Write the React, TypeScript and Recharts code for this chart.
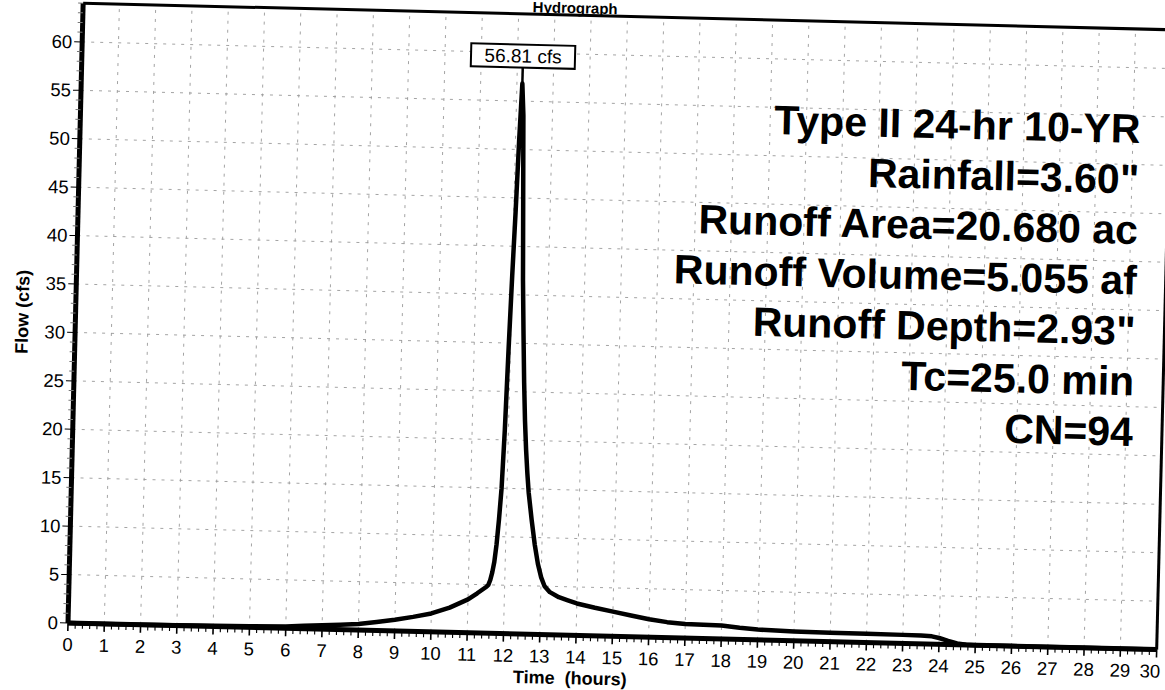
import React from 'react';
import { LineChart, Line, XAxis, YAxis, ReferenceLine, ReferenceDot } from 'recharts';

// hydrograph ordinates (hours, cfs)
const TIME_HRS = [
  0, 1, 2, 3, 4, 5, 6, 6.5, 7, 7.5,
  8, 8.5, 9, 9.5, 10, 10.5, 11, 11.25, 11.5, 11.55,
  11.6, 11.65, 11.7, 11.75, 11.8, 11.85, 11.9, 11.95, 12.0, 12.05,
  12.1, 12.15, 12.2, 12.25, 12.3, 12.35, 12.4, 12.45, 12.5, 12.55,
  12.6, 12.7, 12.8, 12.9, 13.0, 13.1, 13.25, 13.5, 13.75, 14,
  14.5, 15, 15.5, 16, 16.5, 17, 17.5, 18, 18.5, 19,
  19.5, 20, 21, 22, 23, 23.5, 23.8, 24, 24.25, 24.5,
  24.75, 25, 26, 27, 28, 29, 30,
];
const FLOW_CFS = [
  0, 0, 0.01, 0.05, 0.09, 0.13, 0.2, 0.3, 0.4, 0.5,
  0.62, 0.88, 1.15, 1.5, 1.9, 2.55, 3.45, 4.1, 4.8, 5.0,
  5.5, 6.3, 7.4, 9.2, 11.8, 15.0, 21.0, 29.5, 37.0, 43.5,
  51.0, 56.81, 53.5, 45.0, 36.5, 31.0, 26.0, 22.0, 19.0, 16.6,
  14.6, 11.8, 9.3, 7.3, 5.9, 5.0, 4.4, 3.9, 3.6, 3.3,
  2.9, 2.55, 2.2, 1.85, 1.6, 1.45, 1.42, 1.38, 1.2, 1.07,
  1.0, 0.96, 0.92, 0.9, 0.88, 0.86, 0.8, 0.65, 0.38, 0.14,
  0.03, 0, 0, 0, 0, 0, 0,
];

const HOUR_TICKS = [0, 1, 2, 3, 4, 5, 6, 7, 8, 9, 10, 11, 12, 13, 14, 15, 16, 17, 18, 19, 20, 21, 22, 23, 24, 25, 26, 27, 28, 29, 30];
const FLOW_TICKS = [0, 5, 10, 15, 20, 25, 30, 35, 40, 45, 50, 55, 60];
const FLOW_MAX = 64;

const NOTES = [
  'Type II 24-hr 10-YR',
  'Rainfall=3.60"',
  'Runoff Area=20.680 ac',
  'Runoff Volume=5.055 af',
  'Runoff Depth=2.93"',
  'Tc=25.0 min',
  'CN=94',
];

const data = TIME_HRS.map((t, i) => ({ t, q: FLOW_CFS[i] }));
const peakIdx = FLOW_CFS.indexOf(Math.max(...FLOW_CFS));
const PEAK_T = TIME_HRS[peakIdx];
const PEAK_Q = FLOW_CFS[peakIdx];
const LAST_HOUR = HOUR_TICKS[HOUR_TICKS.length - 1];

const minorHours = Array.from({ length: 151 }, (_, i) => i / 5);
const minorFlows = Array.from({ length: FLOW_MAX + 1 }, (_, i) => i);

const FONT = '"Liberation Sans", Arial, Helvetica, sans-serif';

const HourTick = (props: any) => {
  const { x, y, payload } = props;
  const v = payload.value;
  const major = Math.abs(v - Math.round(v)) < 1e-6;
  const last = major && Math.round(v) === LAST_HOUR;
  return (
    <g>
      <line x1={x} y1={y} x2={x} y2={y + (major ? 8 : 5.5)} stroke="#000" strokeWidth={major ? 1.6 : 1.1} />
      {major && (
        <text
          x={last ? x + 4 : x} y={y + 28} textAnchor={last ? 'end' : 'middle'}
          fontSize={18.5} fontFamily={FONT} fill="#000"
        >
          {Math.round(v)}
        </text>
      )}
    </g>
  );
};

const FlowTick = (props: any) => {
  const { x, y, payload } = props;
  const v = payload.value;
  const labelled = FLOW_TICKS.includes(v);
  return (
    <g>
      <line x1={x - (labelled ? 8 : 5)} y1={y} x2={x} y2={y} stroke={labelled ? '#000' : '#777'} strokeWidth={1} />
      {labelled && (
        <text x={x - 10} y={y + 6.5} textAnchor="end" fontSize={18.5} fontFamily={FONT} fill="#000">
          {v}
        </text>
      )}
    </g>
  );
};

const PeakLabel = (props: any) => {
  const { viewBox } = props;
  const cx = viewBox.x + viewBox.width / 2;
  const cy = viewBox.y + viewBox.height / 2;
  return (
    <g>
      <line x1={cx} y1={cy} x2={cx} y2={cy - 17} stroke="#000" strokeWidth={2.5} />
      <rect x={cx - 52} y={cy - 39} width={104} height={23} fill="#fff" stroke="#000" strokeWidth={2} />
      <text x={cx} y={cy - 21} textAnchor="middle" fontSize={19} fontFamily={FONT} fill="#000">
        {PEAK_Q.toFixed(2)} cfs
      </text>
    </g>
  );
};

const gridStroke = { stroke: '#9a9a9a', strokeWidth: 0.9, strokeDasharray: '3 6' };

export default function App() {
  return (
    <div style={{ position: 'fixed', left: 0, top: 0, width: 1165, height: 690, overflow: 'hidden', background: '#fff' }}>
      <div
        style={{
          position: 'absolute', left: 0, top: -40, width: 1165, height: 740,
          transform: 'rotate(1.4deg)', transformOrigin: '68px 663px',
        }}
      >
        <LineChart width={1165} height={740} data={data} margin={{ top: 43, right: 8, bottom: 47, left: 18 }}>
          <XAxis
            dataKey="t" type="number" domain={[0, 30]} ticks={minorHours} interval={0}
            tick={<HourTick />} tickLine={false} tickSize={0} tickMargin={0} height={30}
            axisLine={{ stroke: '#000', strokeWidth: 5 }}
          />
          <YAxis
            type="number" domain={[0, FLOW_MAX]} ticks={minorFlows} interval={0}
            tick={<FlowTick />} tickLine={false} tickSize={0} tickMargin={0} width={50}
            axisLine={{ stroke: '#000', strokeWidth: 5 }}
          />
          {HOUR_TICKS.slice(1, -1).map((h) => (
            <ReferenceLine key={`h${h}`} x={h} {...gridStroke} />
          ))}
          {FLOW_TICKS.slice(1).map((f) => (
            <ReferenceLine key={`f${f}`} y={f} {...gridStroke} />
          ))}
          <ReferenceLine y={FLOW_MAX} stroke="#000" strokeWidth={3} />
          <ReferenceLine x={30} stroke="#000" strokeWidth={3} />
          <Line
            dataKey="q" type="linear" stroke="#000" strokeWidth={4.5} strokeLinejoin="round"
            dot={false} activeDot={false} isAnimationActive={false}
          />
          <ReferenceDot x={PEAK_T} y={PEAK_Q} r={1} fill="none" stroke="none" label={PeakLabel} />
        </LineChart>
        <svg
          width={1165} height={740}
          style={{ position: 'absolute', left: 0, top: 0, pointerEvents: 'none' }}
          fontFamily={FONT}
        >
          <text x={560} y={41} textAnchor="middle" fontSize={15} fontWeight="bold" fill="#000">Hydrograph</text>
          <text
            x={15} y={353} textAnchor="middle" dominantBaseline="central" fontSize={18} fontWeight="bold"
            fill="#000" transform="rotate(-90 15 353)"
          >
            Flow  (cfs)
          </text>
          <text x={571} y={712} textAnchor="middle" fontSize={18} fontWeight="bold" fill="#000" style={{ whiteSpace: 'pre' }}>
            {'Time  (hours)'}
          </text>
          {NOTES.map((s, i) => (
            <text key={s} x={1128} y={157 + i * 50.5} textAnchor="end" fontSize={41} fontWeight="bold" fill="#000">
              {s}
            </text>
          ))}
        </svg>
      </div>
    </div>
  );
}
